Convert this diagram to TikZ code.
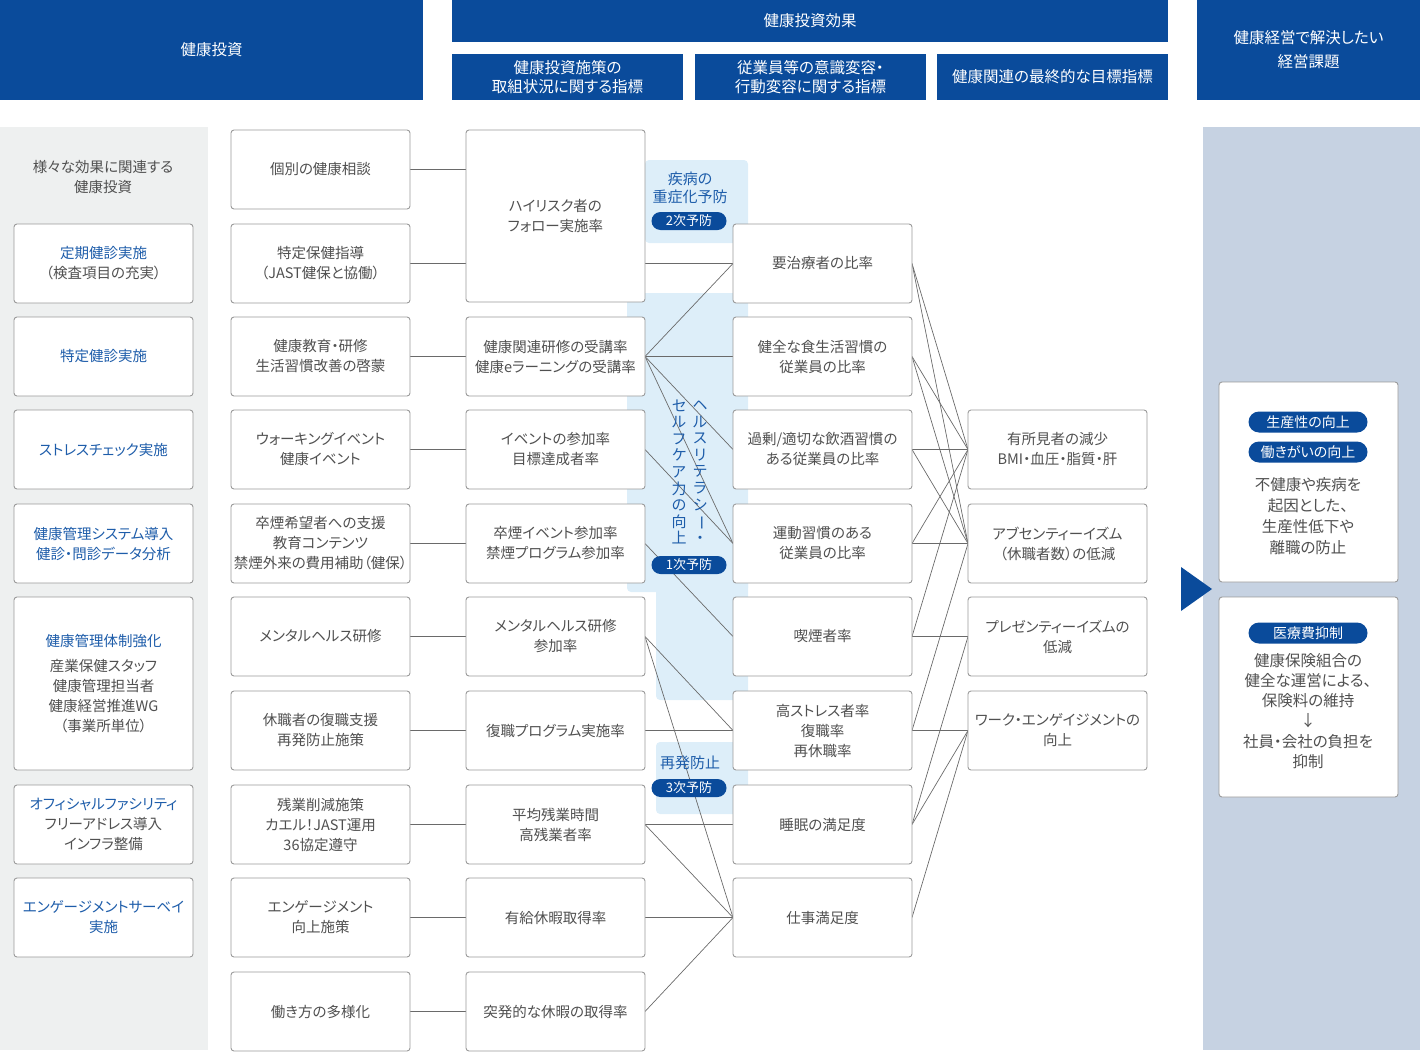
\documentclass[tikz,border=0pt]{standalone}
\usepackage{fontspec}
\usepackage{graphicx}
\setmainfont{Noto Sans CJK JP}[RawFeature={+palt}]
\usetikzlibrary{backgrounds}
\definecolor{hdr}{HTML}{0A4B9B}
\definecolor{txtblue}{HTML}{1E5DAA}
\definecolor{txtgray}{HTML}{505050}
\definecolor{bordergray}{HTML}{9A9A9A}
\definecolor{linegray}{HTML}{6A6A6A}
\definecolor{leftbg}{HTML}{EEF0F0}
\definecolor{rightbg}{HTML}{C6D2E2}
\definecolor{bandbg}{HTML}{DDEEF9}
\pgfdeclarelayer{bg}
\pgfdeclarelayer{lines}
\pgfsetlayers{bg,lines,main}
\begin{document}
\begin{tikzpicture}[x=1pt,y=-1pt,
  every node/.style={inner sep=0pt, outer sep=0pt},
  box/.style={draw=bordergray, line width=0.9pt, rounded corners=3pt, fill=white,
    anchor=north west, minimum width=179pt, minimum height=79pt, align=center,
    text=txtgray, font=\fontsize{14.5}{20}\selectfont},
  hdrbox/.style={fill=hdr, anchor=north west, align=center, text=white,
    font=\fontsize{15.5}{19}\selectfont},
  conn/.style={draw=linegray, line width=0.7pt},
  pill/.style={fill=hdr, rounded corners=9pt, minimum width=75pt, minimum height=18pt,
    text=white, font=\fontsize{13}{14}\selectfont},
  bigpill/.style={fill=hdr, rounded corners=10.5pt, minimum width=119pt, minimum height=21pt,
    text=white, font=\fontsize{14}{15}\selectfont},
  bandlbl/.style={text=txtblue, align=center, font=\fontsize{15}{18}\selectfont},
  plain/.style={align=center, text=txtgray, font=\fontsize{14.5}{20}\selectfont},
]
\useasboundingbox (0,0) rectangle (1420,1057);

% ---------- headers ----------
\node[hdrbox, minimum width=423pt, minimum height=100pt] (h1) at (0,0) {健康投資};
\node[hdrbox, minimum width=716pt, minimum height=42pt] (h2) at (452,0) {健康投資効果};
\node[hdrbox, minimum width=231pt, minimum height=46pt] (h3) at (452,54) {健康投資施策の\\取組状況に関する指標};
\node[hdrbox, minimum width=231pt, minimum height=46pt] (h4) at (695,54) {従業員等の意識変容・\\行動変容に関する指標};
\node[hdrbox, minimum width=231pt, minimum height=46pt] (h5) at (937,54) {健康関連の最終的な目標指標};
\node[hdrbox, minimum width=223pt, minimum height=100pt, font=\fontsize{15.5}{24}\selectfont] (h6) at (1197,0) {健康経営で解決したい\\経営課題};

% ---------- background panels and bands ----------
\begin{pgfonlayer}{bg}
\fill[leftbg] (0,127) rectangle (208,1050);
\fill[rightbg] (1203,127) rectangle (1420,1050);
\fill[bandbg, rounded corners=4pt] (645,160) rectangle (748,243);
\fill[bandbg, rounded corners=4pt] (627,293) rectangle (748,592);
\fill[bandbg, rounded corners=4pt] (656,575) rectangle (748,700);
\fill[bandbg, rounded corners=4pt] (656,742) rectangle (748,814);
\end{pgfonlayer}

% ---------- column 1 ----------
\node[plain] (t0) at (103,177) {様々な効果に関連する\\健康投資};
\node[box] (a1) at (14,224) {\textcolor{txtblue}{定期健診実施}\\（検査項目の充実）};
\node[box, text=txtblue] (a2) at (14,317) {特定健診実施};
\node[box, text=txtblue] (a3) at (14,410) {ストレスチェック実施};
\node[box, text=txtblue] (a4) at (14,504) {健康管理システム導入\\健診・問診データ分析};
\node[box, minimum height=173pt] (a5) at (14,597) {\textcolor{txtblue}{健康管理体制強化}\\[5pt]産業保健スタッフ\\健康管理担当者\\健康経営推進WG\\（事業所単位）};
\node[box] (a6) at (14,785) {\textcolor{txtblue}{オフィシャルファシリティ}\\フリーアドレス導入\\インフラ整備};
\node[box, text=txtblue] (a7) at (14,878) {エンゲージメントサーベイ\\実施};

% ---------- column 2 ----------
\node[box] (b1) at (231,130) {個別の健康相談};
\node[box] (b2) at (231,224) {特定保健指導\\（JAST健保と協働）};
\node[box] (b3) at (231,317) {健康教育・研修\\生活習慣改善の啓蒙};
\node[box] (b4) at (231,410) {ウォーキングイベント\\健康イベント};
\node[box] (b5) at (231,504) {卒煙希望者への支援\\教育コンテンツ\\禁煙外来の費用補助（健保）};
\node[box] (b6) at (231,597) {メンタルヘルス研修};
\node[box] (b7) at (231,691) {休職者の復職支援\\再発防止施策};
\node[box] (b8) at (231,785) {残業削減施策\\カエル！JAST運用\\36協定遵守};
\node[box] (b9) at (231,878) {エンゲージメント\\向上施策};
\node[box] (b10) at (231,972) {働き方の多様化};

% ---------- column 3 ----------
\node[box, minimum height=172pt] (c1) at (466,130) {ハイリスク者の\\フォロー実施率};
\node[box] (c2) at (466,317) {健康関連研修の受講率\\健康eラーニングの受講率};
\node[box] (c3) at (466,410) {イベントの参加率\\目標達成者率};
\node[box] (c4) at (466,504) {卒煙イベント参加率\\禁煙プログラム参加率};
\node[box] (c5) at (466,597) {メンタルヘルス研修\\参加率};
\node[box] (c6) at (466,691) {復職プログラム実施率};
\node[box] (c7) at (466,785) {平均残業時間\\高残業者率};
\node[box] (c8) at (466,878) {有給休暇取得率};
\node[box] (c9) at (466,972) {突発的な休暇の取得率};

% ---------- column 4 ----------
\node[box] (r1) at (733,224) {要治療者の比率};
\node[box] (r2) at (733,317) {健全な食生活習慣の\\従業員の比率};
\node[box] (r3) at (733,410) {過剰/適切な飲酒習慣の\\ある従業員の比率};
\node[box] (r4) at (733,504) {運動習慣のある\\従業員の比率};
\node[box] (r5) at (733,597) {喫煙者率};
\node[box] (r6) at (733,691) {高ストレス者率\\復職率\\再休職率};
\node[box] (r7) at (733,785) {睡眠の満足度};
\node[box] (r8) at (733,878) {仕事満足度};

% ---------- column 5 ----------
\node[box] (oA) at (968,410) {有所見者の減少\\BMI・血圧・脂質・肝};
\node[box] (oB) at (968,504) {アブセンティーイズム\\（休職者数）の低減};
\node[box] (oC) at (968,597) {プレゼンティーイズムの\\低減};
\node[box] (oD) at (968,691) {ワーク・エンゲイジメントの\\向上};

% ---------- connectors ----------
\begin{pgfonlayer}{lines}
\draw[conn] (b1.east) -- (b1.east -| c1.west);
\draw[conn] (b2.east) -- (b2.east -| c1.west);
\foreach \u/\v in {b3/c2,b4/c3,b5/c4,b6/c5,b7/c6,b8/c7,b9/c8,b10/c9}
  \draw[conn] (\u.east) -- (\v.west);
\draw[conn] (r1.west -| c1.east) -- (r1.west);
\foreach \u/\v in {c2/r1,c2/r2,c2/r3,c2/r4,c3/r4,c4/r5,c5/r6,c5/r8,c6/r6,c7/r7,c7/r8,c8/r8,c9/r8}
  \draw[conn] (\u.east) -- (\v.west);
\foreach \u/\v in {r1/oA,r1/oB,r2/oA,r2/oB,r3/oA,r3/oB,r4/oA,r4/oB,r5/oA,r5/oC,r6/oB,r6/oD,r7/oC,r7/oD,r8/oD}
  \draw[conn] (\u.east) -- (\v.west);
\end{pgfonlayer}

% ---------- band labels ----------
\node[bandlbl] (lb2) at (690,188) {疾病の\\重症化予防};
\node[pill] (p2) at (689,221) {2次予防};
\node[bandlbl, font=\fontsize{15}{16.6}\selectfont] (vl1) at (700,472) {ヘ\\ル\\ス\\リ\\テ\\ラ\\シ\\\rotatebox[origin=c]{-90}{ー}\\・};
\node[bandlbl, font=\fontsize{15}{16.6}\selectfont] (vl2) at (679,472) {セ\\ル\\フ\\ケ\\ア\\力\\の\\向\\上};
\node[pill] (p1) at (689,565) {1次予防};
\node[bandlbl] (lb3) at (690,763) {再発防止};
\node[pill] (p3) at (689,788) {3次予防};

% ---------- right side ----------
\fill[hdr] (1181,567) -- (1181,611) -- (1212,589) -- cycle;
\node[box, minimum height=200pt] (R1) at (1219,382) {};
\node[box, minimum height=200pt] (R2) at (1219,597) {};
\node[bigpill] (q1) at (1308,422) {生産性の向上};
\node[bigpill] (q2) at (1308,452) {働きがいの向上};
\node[plain, font=\fontsize{15.5}{21}\selectfont] (R1t) at (1308,516) {不健康や疾病を\\起因とした、\\生産性低下や\\離職の防止};
\node[bigpill] (q3) at (1308,633) {医療費抑制};
\node[plain, font=\fontsize{15.5}{20.2}\selectfont] (R2t) at (1308,711) {健康保険組合の\\健全な運営による、\\保険料の維持\\↓\\社員・会社の負担を\\抑制};
\end{tikzpicture}
\end{document}
